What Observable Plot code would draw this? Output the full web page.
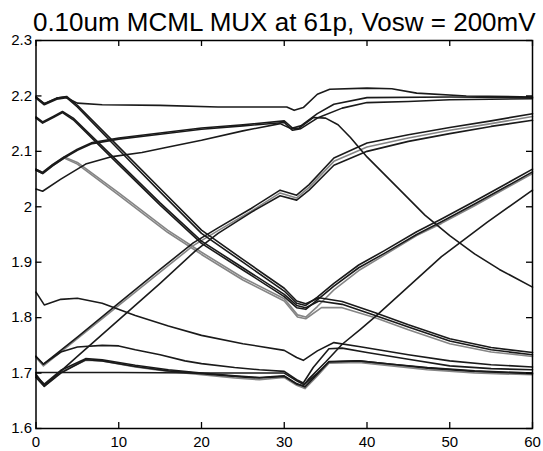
<!DOCTYPE html>
<html>
<head>
<meta charset="utf-8">
<script src="https://cdn.jsdelivr.net/npm/d3@7"></script>
<script src="https://cdn.jsdelivr.net/npm/@observablehq/plot@0.6"></script>
<style>
  html, body { margin: 0; padding: 0; background: #fff; }
  svg { display: block; }
</style>
</head>
<body>
<div id="chart"></div>
<script>
// Output traces of the 0.10um MCML MUX, time (ps) vs. voltage (V).
// Each trace is a list of [time, volts] samples.

const titleText = "0.10um MCML MUX at 61p, Vosw = 200mV";
const xTicks = [0, 10, 20, 30, 40, 50, 60];
const yTicks = [1.6, 1.7, 1.8, 1.9, 2.0, 2.1, 2.2, 2.3];
const xDomain = [0, 60];
const yDomain = [1.6, 2.3];

// high start, stays high
const hiFlat = [[0,2.198],[1,2.186],[2.5,2.196],[3.5,2.198],[5,2.187],[8,2.184],[15,2.183],[22,2.18],[30.3,2.18],[31.2,2.174],[32.3,2.179],[34,2.203],[35.5,2.212],[40,2.214],[43,2.213],[46,2.205],[52,2.2],[60,2.198]];
// high start, falls to the lower band
const fallA1 = [[0,2.198],[1,2.186],[2.5,2.196],[3.7,2.199],[5,2.183],[10,2.108],[15,2.033],[20,1.958],[25,1.905],[30,1.853],[31.5,1.83],[32.6,1.825],[34.2,1.836],[37,1.829],[41,1.809],[45,1.787],[50,1.762],[55,1.746],[60,1.737]];
// high start, falls then rises again
const fallA2 = [[0,2.196],[1,2.184],[2.5,2.194],[3.7,2.197],[5,2.18],[10,2.103],[15,2.027],[20,1.952],[25,1.9],[30,1.848],[31.5,1.826],[32.6,1.822],[34,1.837],[36,1.862],[39,1.895],[42,1.92],[46,1.955],[49,1.978],[53,2.01],[57,2.043],[60,2.068]];
const fallB1 = [[0,2.162],[0.8,2.153],[2.2,2.164],[3.2,2.172],[4.5,2.16],[10,2.08],[15,2.007],[20,1.938],[25,1.89],[30,1.842],[31.5,1.822],[32.6,1.818],[34.2,1.83],[37,1.824],[41,1.804],[45,1.783],[50,1.758],[55,1.742],[60,1.733]];
const fallB2 = [[0,2.16],[0.8,2.151],[2.2,2.162],[3.2,2.17],[4.5,2.157],[10,2.076],[15,2.003],[20,1.934],[25,1.886],[30,1.838],[31.5,1.818],[32.6,1.815],[34,1.832],[36,1.857],[39,1.89],[42,1.915],[46,1.95],[49,1.973],[53,2.005],[57,2.038],[60,2.063]];
const fallC1 = [[0,2.068],[0.8,2.062],[2,2.076],[3.4,2.09],[5,2.08],[10,2.025],[15.9,1.958],[20,1.918],[25,1.872],[30,1.834],[31.6,1.805],[32.6,1.801],[34,1.82],[36,1.85],[39,1.885],[42,1.912],[46,1.948],[49,1.97],[53,2.002],[57,2.035],[60,2.06]];
const fallC2 = [[0,2.066],[0.8,2.06],[2,2.074],[3.4,2.088],[5,2.077],[10,2.021],[15.9,1.954],[20,1.914],[25,1.868],[30,1.83],[31.6,1.801],[32.6,1.798],[34.5,1.818],[37,1.818],[41,1.8],[45,1.778],[50,1.753],[55,1.738],[60,1.73]];
// mid-high start, rising
const riseC1 = [[0,2.068],[0.8,2.062],[2,2.076],[3.4,2.09],[5,2.104],[6.8,2.116],[10,2.124],[15,2.133],[20,2.142],[25,2.148],[30,2.155],[31,2.142],[32,2.146],[34,2.168],[36,2.185],[40,2.197],[50,2.198],[60,2.197]];
const riseC2 = [[0,2.066],[0.8,2.06],[2,2.074],[3.4,2.088],[5,2.102],[6.8,2.114],[10,2.122],[15,2.131],[20,2.14],[25,2.146],[30,2.152],[31,2.138],[32,2.141],[34,2.16],[37,2.178],[40,2.188],[45,2.19],[50,2.193],[60,2.195]];
const riseD = [[0,2.032],[0.8,2.028],[3,2.05],[6,2.077],[9,2.09],[12.8,2.098],[16,2.108],[20,2.12],[25,2.137],[29.5,2.15],[30.8,2.141],[31.8,2.142],[33.5,2.161],[35,2.16],[36.5,2.148],[38,2.125],[40,2.09],[44,2.03],[47,1.985],[50,1.948],[53,1.915],[56,1.887],[60,1.855]];
// low start, rising
const riseF1 = [[0,1.73],[0.9,1.716],[5,1.765],[10,1.826],[15,1.887],[19,1.935],[22,1.962],[26,1.997],[29.5,2.03],[31.5,2.021],[33,2.04],[36,2.088],[40,2.115],[45,2.13],[50,2.143],[55,2.155],[60,2.168]];
const riseF2 = [[0,1.728],[0.9,1.713],[5,1.762],[10,1.822],[15,1.882],[19,1.93],[22,1.957],[26,1.992],[29.5,2.025],[31.5,2.016],[33,2.035],[36,2.082],[40,2.108],[45,2.124],[50,2.138],[55,2.15],[60,2.163]];
const riseG = [[0,1.698],[1,1.677],[5,1.73],[10,1.796],[15,1.862],[19.3,1.921],[22,1.952],[26,1.99],[29.5,2.02],[31.5,2.012],[33,2.03],[36,2.075],[40,2.1],[45,2.118],[50,2.132],[55,2.145],[60,2.156]];
// low start, staying low
const midE = [[0,1.846],[1,1.823],[3,1.833],[5,1.835],[8,1.826],[12,1.804],[16,1.785],[20,1.768],[25,1.753],[30,1.741],[31.5,1.728],[32.3,1.723],[34,1.74],[36,1.755],[39,1.748],[45,1.733],[50,1.722],[55,1.715],[60,1.711]];
const bumpF = [[0,1.73],[0.9,1.716],[3,1.738],[5,1.747],[8,1.75],[10,1.749],[12,1.742],[15,1.733],[18,1.722],[20,1.717],[24,1.71],[27,1.706],[30,1.703],[31.5,1.688],[32.3,1.682],[33.5,1.71],[35.4,1.744],[37,1.745],[40,1.737],[45,1.725],[50,1.713],[55,1.708],[60,1.706]];
const flatG = [[0,1.701],[10,1.701],[20,1.7],[30,1.7],[31.5,1.686],[32.4,1.679],[34,1.7],[35.4,1.72],[39,1.722],[43,1.716],[47.3,1.71],[53,1.704],[60,1.7]];
const bumpG1 = [[0,1.695],[1,1.68],[3,1.705],[6,1.726],[8,1.724],[12,1.714],[16,1.706],[20,1.7],[24,1.695],[27,1.692],[30,1.695],[31.5,1.681],[32.5,1.675],[34,1.698],[35.4,1.721],[39,1.722],[43,1.716],[47.3,1.709],[53,1.703],[60,1.699]];
const bumpG2 = [[0,1.693],[1,1.677],[3,1.702],[6,1.723],[8,1.722],[12,1.711],[16,1.703],[20,1.697],[24,1.691],[27,1.688],[30,1.692],[31.5,1.678],[32.5,1.672],[34,1.695],[35.4,1.718],[39,1.719],[43,1.713],[47.3,1.706],[53,1.7],[60,1.697]];
const bumpG3 = [[0,1.692],[1,1.676],[3,1.7],[6,1.724],[8,1.722],[12,1.712],[16,1.704],[20,1.699],[24,1.694],[27,1.691],[30,1.694],[31.5,1.68],[32.3,1.677],[33,1.69],[35,1.72],[37,1.752],[39.2,1.779],[41,1.802],[45,1.856],[49,1.91],[54.5,1.972],[60,2.03]];

const darkTraces = { hiFlat, fallA1, fallA2, fallB1, fallB2, riseC1, riseC2, riseD, riseF1, riseG, midE, bumpF, flatG, bumpG1, bumpG3 };
const grayTraces = { fallC1, fallC2, riseF2, bumpG2 };

const toRows = (group) => Object.entries(group).flatMap(([name, pts]) =>
  pts.map(([t, v]) => ({ name, t, v })));

const darkRows = toRows(darkTraces);
const grayRows = toRows(grayTraces);

const font = "'Liberation Sans', Arial, Helvetica, sans-serif";

// figure geometry
const W = 543, H = 451;
const mL = 35.5, mR = 11, mT = 40, mB = 23;
const innerW = W - mL - mR, innerH = H - mT - mB;
const tickLen = 6;
// tick length expressed in data units of each axis
const tx = tickLen / innerW * (xDomain[1] - xDomain[0]);
const ty = tickLen / innerH * (yDomain[1] - yDomain[0]);

const chart = Plot.plot({
  width: W,
  height: H,
  marginLeft: mL,
  marginRight: mR,
  marginTop: mT,
  marginBottom: mB,
  style: { fontFamily: font, background: "#fff", color: "#000", overflow: "visible" },
  x: { domain: xDomain },
  y: { domain: yDomain },
  marks: [
    Plot.line(grayRows, { x: "t", y: "v", z: "name", stroke: "#858585", strokeWidth: 1.6 }),
    Plot.line(darkRows, { x: "t", y: "v", z: "name", stroke: "#1a1a1a", strokeWidth: 1.6 }),
    Plot.frame({ stroke: "#000", strokeWidth: 1.5 }),
    // inward ticks on all four sides of the box
    Plot.ruleX(xTicks, { x: d => d, y1: yDomain[0], y2: yDomain[0] + ty, stroke: "#000", strokeWidth: 1.3 }),
    Plot.ruleX(xTicks, { x: d => d, y1: yDomain[1], y2: yDomain[1] - ty, stroke: "#000", strokeWidth: 1.3 }),
    Plot.ruleY(yTicks, { y: d => d, x1: xDomain[0], x2: xDomain[0] + tx, stroke: "#000", strokeWidth: 1.3 }),
    Plot.ruleY(yTicks, { y: d => d, x1: xDomain[1], x2: xDomain[1] - tx, stroke: "#000", strokeWidth: 1.3 }),
    // tick labels
    Plot.axisX(xTicks, { anchor: "bottom", tickSize: 0, tickPadding: 8, fontSize: 15, label: null, tickFormat: d => String(d) }),
    Plot.axisY(yTicks, { anchor: "left", tickSize: 0, tickPadding: 4, fontSize: 15, label: null, tickFormat: d => String(+d.toFixed(1)) }),
    Plot.text([titleText], { frameAnchor: "top", lineAnchor: "bottom", dy: -10, fontSize: 26, text: d => d, fill: "#000" })
  ]
});

document.getElementById("chart").append(chart);
</script>
</body>
</html>
